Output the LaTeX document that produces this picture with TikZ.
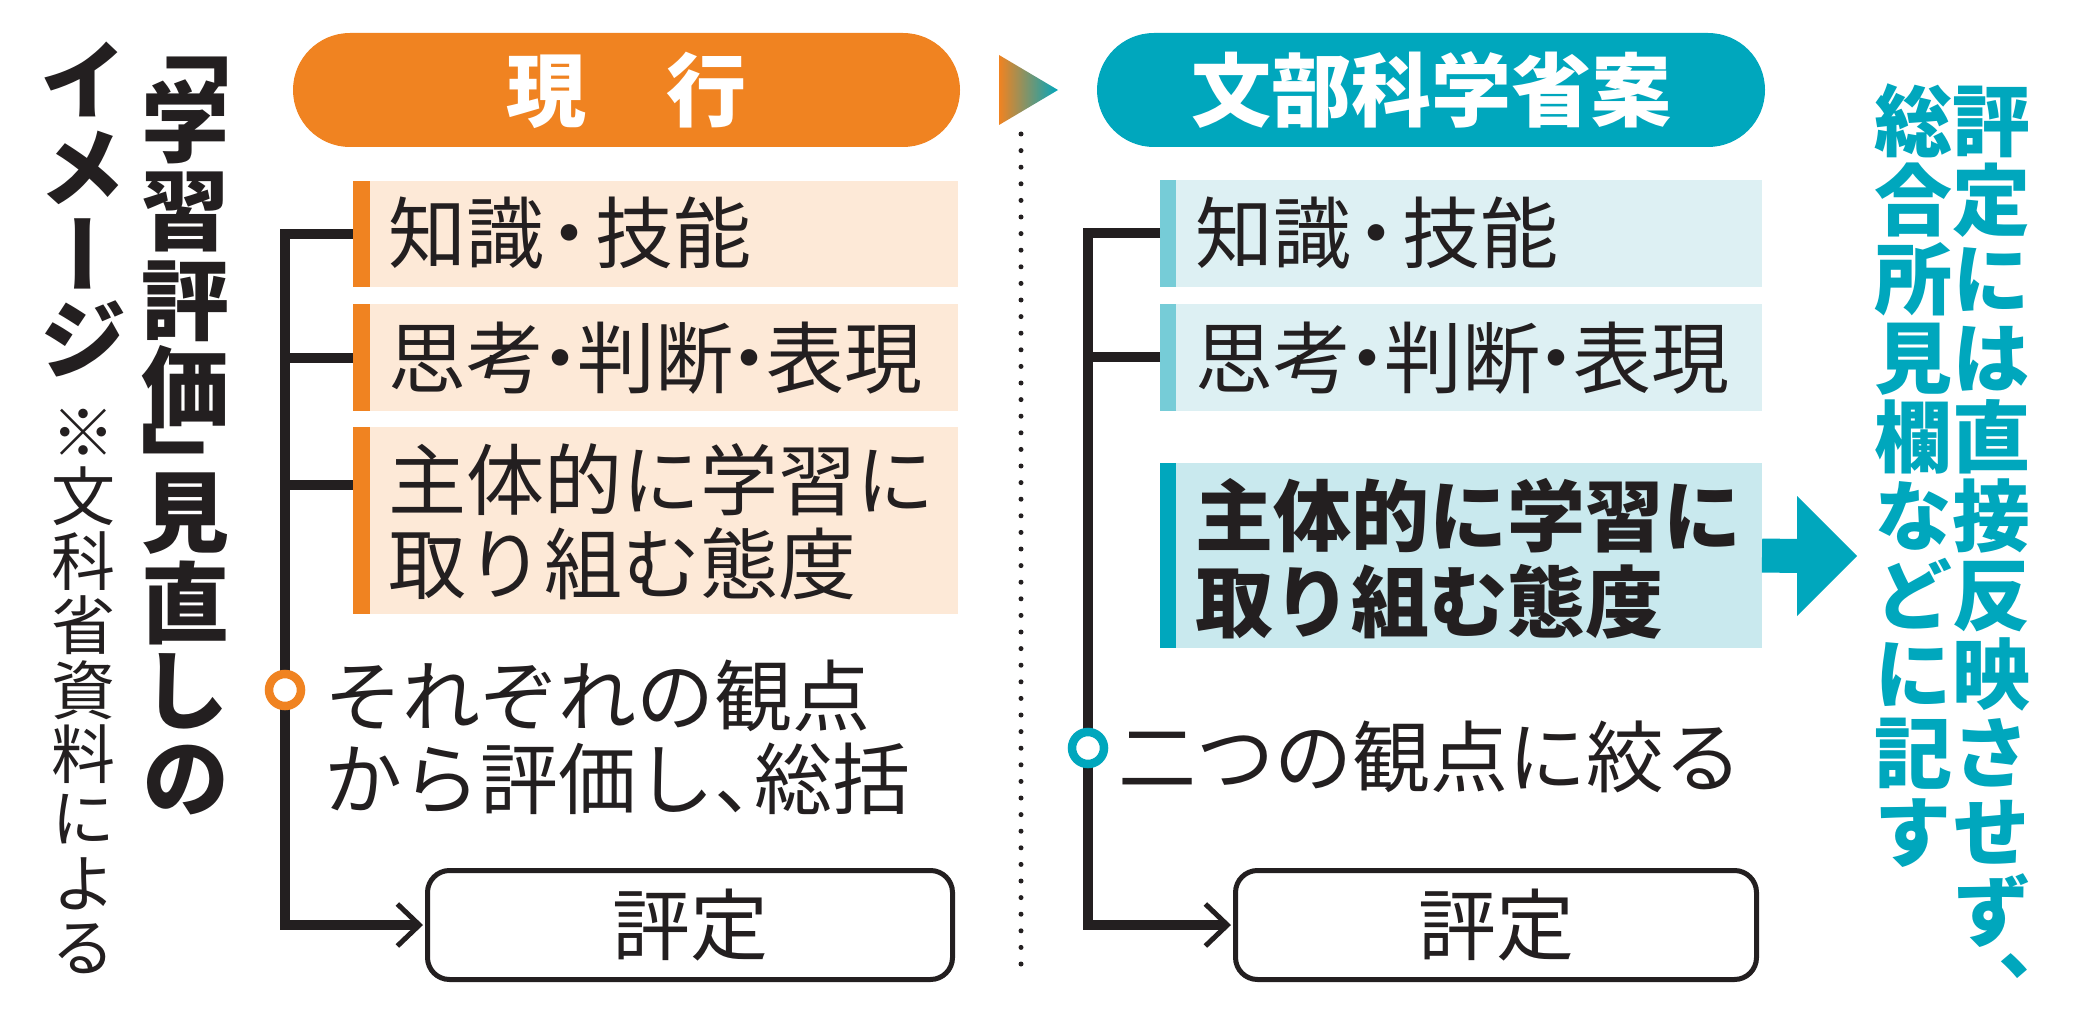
\documentclass[tikz,border=0pt]{standalone}
\usepackage{fontspec}
\setmainfont{Noto Sans CJK JP}
\newfontfamily\vjp[RawFeature=+vert]{Noto Sans CJK JP}
\usetikzlibrary{arrows.meta,calc}
\definecolor{ink}{RGB}{35,31,32}
\definecolor{myorange}{RGB}{240,131,33}
\definecolor{peach}{RGB}{253,233,215}
\definecolor{myteal}{RGB}{0,167,189}
\definecolor{tealbar}{RGB}{118,204,215}
\definecolor{tealfill}{RGB}{221,240,243}
\definecolor{tealfillb}{RGB}{201,233,238}
\newcommand\dotA{\makebox[51pt]{・}}
\newcommand\dotB{\makebox[33pt]{・}}
\begin{document}
\begin{tikzpicture}[x=1pt,y=-1pt,
  panel/.style={inner sep=0pt, outer sep=0pt, minimum width=#1},
  body/.style={font=\fontsize{78}{84}\selectfont, text=ink, inner sep=0pt, anchor=base west, align=left},
  pill/.style={rounded corners=57pt, inner sep=0pt, outer sep=0pt, minimum height=114pt, text=white, font=\bfseries\fontsize{80}{80}\selectfont},
  hyo/.style={draw=ink, line width=5pt, rounded corners=22pt, minimum height=109pt, inner sep=0pt, text=ink, font=\fontsize{78}{78}\selectfont},
  conn/.style={draw=ink, line width=10pt},
  arr/.style={-{Straight Barb[length=22pt,width=42pt,line width=5pt]}, shorten >=2pt},
  ring/.style={circle, fill=white, line width=8.5pt, minimum size=32pt, inner sep=0pt},
  vtitle/.style={font=\vjp\bfseries\fontsize{88}{88}\selectfont, text=ink, inner sep=0pt, anchor=base},
  vnote/.style={font=\vjp\fontsize{64}{64}\selectfont, text=ink, inner sep=0pt, anchor=base},
  vteal/.style={font=\vjp\bfseries\fontsize{78}{78}\selectfont, text=myteal, inner sep=0pt, anchor=base},
  dotline/.style={draw=ink, line width=5pt, line cap=round, dash pattern=on 0pt off 16.6pt}
]
\useasboundingbox (0,0) rectangle (2079,1016);
\fill[white] (0,0) rectangle (2079,1016);

% ---------- vertical title ----------
\foreach \ch/\cy [count=\i] in {「/45,学/122,習/210,評/300,価/387,」/464,見/512,直/603,し/690,の/778}
  \node[vtitle] (ta\i) at (185,{\cy+33.4}) {\ch};
\foreach \ch/\cy [count=\i] in {イ/80,メ/167,ー/255,ジ/339}
  \node[vtitle] (tb\i) at (83,{\cy+33.4}) {\ch};
\foreach \ch/\cy [count=\i] in {※/432,文/496,科/561,省/625,資/690,料/754,に/818,よ/883,る/947}
  \node[vnote] (tc\i) at (83,{\cy+24.3}) {\ch};

% ---------- pills ----------
\node[pill, fill=myorange, minimum width=667pt] (lpill) at (626.5,90) {現　行};
\node[pill, fill=myteal, minimum width=668pt] (rpill) at (1431,90) {文部科学省案};
\shade[left color=myorange, right color=myteal] (999,55) -- (1058,90) -- (999,125) -- cycle;
\coordinate (dtop) at (1021,134);
\coordinate (dbot) at (1021,970);
\draw[dotline] (dtop) -- (dbot);

% ---------- left panels ----------
\node[panel=605pt, fill=peach, minimum height=106pt] (lb1) at (655.5,234) {};
\node[panel=605pt, fill=peach, minimum height=107pt] (lb2) at (655.5,357.5) {};
\node[panel=605pt, fill=peach, minimum height=187pt] (lb3) at (655.5,520.5) {};
\foreach \b in {lb1,lb2,lb3}
  \fill[myorange] (\b.north west) rectangle ($(\b.south west)+(17,0)$);
\node[body] (lt1) at (388,262) {知識\dotA 技能};
\node[body] (lt2) at (388,387) {思考\dotB 判断\dotB 表現};
\node[body] (lt3) at (388,593) {主体的に学習に\\取り組む態度};
\node[body, font=\fontsize{78}{83}\selectfont] (lt4) at (324,808) {それぞれの観点\\から評価し\makebox[40pt][l]{、}総括};
\node[hyo, minimum width=525pt] (lhyo) at (690,925) {評定};

\coordinate (lj) at (285,234);
\draw[conn, arr] (lb1.west) -- (lj) |- (lhyo.west);
\draw[conn] (lb2.west) -- (lb2.west -| lj);
\coordinate (lj3) at (285,485);
\draw[conn] (lj3) -- (lj3 -| lb3.west);
\node[ring, draw=myorange] (lring) at (285,690) {};

% ---------- right panels ----------
\node[panel=602pt, fill=tealfill, minimum height=107pt] (rb1) at (1461,233.5) {};
\node[panel=602pt, fill=tealfill, minimum height=107pt] (rb2) at (1461,357) {};
\node[panel=602pt, fill=tealfillb, minimum height=185pt] (rb3) at (1461,555.5) {};
\fill[tealbar] (rb1.north west) rectangle ($(rb1.south west)+(16,0)$);
\fill[tealbar] (rb2.north west) rectangle ($(rb2.south west)+(16,0)$);
\fill[myteal] (rb3.north west) rectangle ($(rb3.south west)+(16,0)$);
\node[body] (rt1) at (1195,262) {知識\dotA 技能};
\node[body] (rt2) at (1195,387) {思考\dotB 判断\dotB 表現};
\node[body, font=\bfseries\fontsize{78}{86}\selectfont] (rt3) at (1195,631) {主体的に学習に\\取り組む態度};
\node[body] (rt4) at (1118,786) {二つの観点に絞る};
\node[hyo, minimum width=521pt] (rhyo) at (1496,925) {評定};

\coordinate (rj) at (1088,233.5);
\draw[conn, arr] (rb1.west) -- (rj) |- (rhyo.west);
\draw[conn] (rb2.west) -- (rb2.west -| rj);
\node[ring, draw=myteal] (rring) at (1088,748) {};

% ---------- big arrow ----------
\coordinate (ahb) at (1798,556);
\coordinate (rtip) at (1857,556);
\draw[myteal, line width=34pt] (rb3.east) -- (ahb);
\fill[myteal] (1797,496) -- (rtip) -- (1797,616) -- cycle;

% ---------- right vertical note ----------
\foreach \ch [count=\i from 0] in {評,定,に,は,直,接,反,映,さ,せ,ず,、}
  \node[vteal] (na\i) at (1991,{121+79*\i+29.6}) {\ch};
\foreach \ch [count=\i from 0] in {総,合,所,見,欄,な,ど,に,記,す}
  \node[vteal] (nb\i) at (1913,{121+79*\i+29.6}) {\ch};
\end{tikzpicture}
\end{document}
